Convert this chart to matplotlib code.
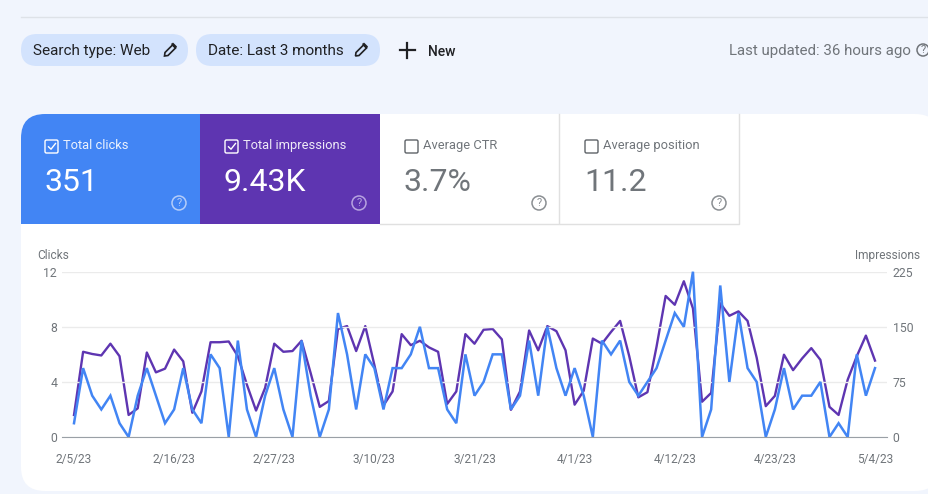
import numpy as np
import matplotlib
matplotlib.use('Agg')
import matplotlib.pyplot as plt
from matplotlib.patches import Rectangle, FancyBboxPatch, Circle, Polygon

plt.rcParams['font.family'] = ['Roboto', 'DejaVu Sans']

# daily values, 2/5/23 to 5/4/23
clicks = [1, 5, 3, 2, 3, 1, 0, 3, 5, 3, 1, 2, 5, 2, 1, 6, 5, 0, 7, 2, 0, 3, 5, 2, 0, 7, 3, 0, 2, 9,
          6, 2, 6, 5, 2, 5, 5, 6, 8, 5, 5, 2, 1, 6, 3, 4, 6, 6, 2, 3, 7, 3, 8, 5, 3, 5, 3, 0, 7, 6,
          7, 4, 3, 4, 5, 7, 9, 8, 12, 0, 2, 11, 4, 9, 5, 4, 0, 2, 5, 2, 3, 3, 4, 0, 1, 0, 6, 3, 5]
impressions = [30, 116, 113, 111, 127, 110, 30, 39, 115, 88, 93, 119, 103, 33, 62, 129, 129, 130,
               110, 71, 36, 67, 127, 116, 117, 131, 87, 41, 49, 147, 151, 117, 151, 98, 43, 62,
               140, 125, 131, 122, 116, 45, 62, 140, 127, 146, 147, 133, 37, 62, 145, 118, 151,
               144, 118, 44, 63, 134, 127, 143, 158, 110, 54, 61, 123, 192, 180, 212, 175, 48,
               60, 182, 165, 171, 158, 108, 42, 56, 112, 91, 107, 121, 105, 41, 30, 78, 110, 138, 104]
x_ticks = [0, 11, 22, 33, 44, 55, 66, 77, 88]
x_labels = ['2/5/23', '2/16/23', '2/27/23', '3/10/23', '3/21/23', '4/1/23', '4/12/23', '4/23/23', '5/4/23']
clicks_ticks = [0, 4, 8, 12]
impr_ticks = [0, 75, 150, 225]

tile_names = ['Total clicks', 'Total impressions', 'Average CTR', 'Average position']
tile_values = ['351', '9.43K', '3.7%', '11.2']
tile_on = [True, True, False, False]

BLUE = '#4285F4'
PURPLE = '#5E35B1'
BG = '#F1F5FD'
CHIP = '#D3E3FD'
GREY = '#70757A'
W, H = 929, 494

fig = plt.figure(figsize=(W / 100, H / 100), dpi=100, facecolor=BG)

# page layer in pixel coordinates
ui = fig.add_axes([0, 0, 1, 1])
ui.set_xlim(0, W)
ui.set_ylim(H, 0)
ui.axis('off')


def help_icon(x, y, color, r=6.5):
    ui.add_patch(Circle((x, y), r, fc='none', ec=color, lw=1.1))
    ui.text(x, y + 0.3, '?', color=color, fontsize=8, ha='center', va='center')


def pencil(x, y):
    body = Polygon([(x - 5, y + 2.5), (x + 2.5, y - 5), (x + 5.5, y - 2), (x - 2, y + 5.5), (x - 5.5, y + 6)],
                   closed=True, fc=CHIP, ec='#202124', lw=1.2)
    ui.add_patch(body)
    ui.add_patch(Polygon([(x + 1.5, y - 6), (x + 3, y - 7), (x + 6.5, y - 3.5), (x + 5.5, y - 1.5)],
                         closed=True, fc='#202124', ec='#202124', lw=0.5))


def chip(x0, x1, label, pencil_x):
    ui.add_patch(FancyBboxPatch((x0 + 16, 34 + 16), x1 - x0 - 32, 0, boxstyle='round,pad=16,rounding_size=16',
                                fc=CHIP, ec='none'))
    ui.text(x0 + 12, 51, label, color='#202124', fontsize=11, ha='left', va='center')
    pencil(pencil_x, 50)


ui.plot([21, W], [17.5, 17.5], color='#DEE2E8', lw=1)
chip(21, 188, 'Search type: Web', 170)
chip(196, 380, 'Date: Last 3 months', 361)
ui.plot([400, 415], [50, 50], color='#202124', lw=1.6)
ui.plot([407.5, 407.5], [43, 58], color='#202124', lw=1.6)
ui.text(428, 51.5, 'New', color='#202124', fontsize=10, fontweight='medium', ha='left', va='center')
ui.text(910.5, 51, 'Last updated: 36 hours ago', color=GREY, fontsize=10.8, ha='right', va='center')
help_icon(923, 50, GREY, r=6)

# white card, runs slightly past the right edge of the page
card = FancyBboxPatch((45, 138), 870, 329, boxstyle='round,pad=24,rounding_size=24', fc='white', ec='none')
ui.add_patch(card)

tile_x = [21, 200, 380, 560]
tile_w = [179, 180, 180, 180]
tile_c = [BLUE, PURPLE, 'white', 'white']
for i, name in enumerate(tile_names):
    x, w = tile_x[i], tile_w[i]
    rect = Rectangle((x, 114), w, 110, fc=tile_c[i], ec='none')
    ui.add_patch(rect)
    rect.set_clip_path(card)
    on = tile_on[i]
    fg = 'white' if on else GREY
    shift = 0 if i == 0 else 1
    if not on:
        ui.plot([x, x + w - 0.5, x + w - 0.5], [223.5, 223.5, 114], color='#E0E0E0', lw=1)
    ui.add_patch(FancyBboxPatch((x + 24 + shift + 1, 141), 11, 11, boxstyle='round,pad=1,rounding_size=1.5',
                                fc='none', ec='white' if on else '#5F6368', lw=1))
    if on:
        ui.plot([x + 27.5 + shift, x + 30 + shift, x + 34.5 + shift], [146.8, 149.2, 143.5], color='white', lw=1)
    ui.text(x + 42 + shift, 145.5, name, color='#FFFFFF' if on else GREY, alpha=0.9 if on else 1,
            fontsize=9.3, ha='left', va='center')
    ui.text(x + 24, 182.5, tile_values[i], color=fg, fontsize=23, ha='left', va='center')
    help_icon(x + 158 + shift, 203, '#B5CDF9' if i == 0 else '#B7A3E0' if i == 1 else '#8A8E92', r=7)

# chart, plot area spans 62..887 px across and 272..437 px down
ax = fig.add_axes([62 / W, 1 - 437 / H, (887 - 62) / W, (437 - 271.7) / H])
ax.patch.set_alpha(0)
days = np.arange(len(clicks))
pad = 12 / 9.1
ax.set_xlim(-pad, 88 + pad)
ax.set_ylim(0, 12)
ax.set_yticks(clicks_ticks)
ax.set_xticks(x_ticks)
ax.set_xticklabels(x_labels)
ax.grid(axis='y', color='#EBEBEB', lw=1)
ax.set_axisbelow(True)
ax.tick_params(axis='both', length=0, labelcolor=GREY, labelsize=8.8)
ax.tick_params(axis='x', pad=11.5, labelsize=8.6)
ax.tick_params(axis='y', pad=3.5)
for s in ['top', 'left', 'right']:
    ax.spines[s].set_visible(False)
ax.spines['bottom'].set_color('#9AA0A6')

ax2 = ax.twinx()
ax2.set_ylim(0, 225)
ax2.set_yticks(impr_ticks)
ax2.tick_params(axis='y', length=0, labelcolor=GREY, labelsize=8.8, pad=4)
for s in ax2.spines.values():
    s.set_visible(False)

# impressions sit under clicks
ax.set_zorder(ax2.get_zorder() + 1)
ax2.plot(days, impressions, color=PURPLE, lw=1.7, clip_on=False)
ax.plot(days, clicks, color=BLUE, lw=1.8, clip_on=False, solid_joinstyle='miter')

ui.text(37.5, 255, 'Clicks', color=GREY, fontsize=8.6, ha='left', va='center')
ui.text(920, 255, 'Impressions', color=GREY, fontsize=8.6, ha='right', va='center')

fig.savefig('out.png', dpi=100, facecolor=BG)
